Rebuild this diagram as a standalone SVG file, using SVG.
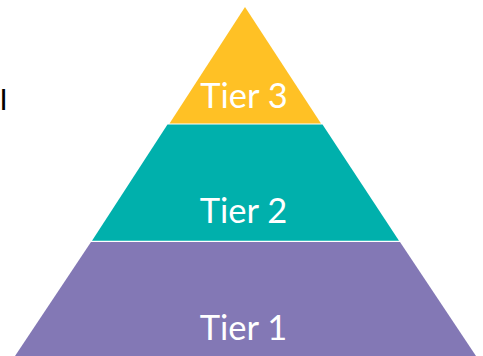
<svg xmlns="http://www.w3.org/2000/svg" width="483" height="356" viewBox="0 0 483 356">
<style>text{font-family:"Lato","Open Sans",sans-serif;font-size:34.500px;fill:#fff;text-anchor:middle}</style>
<rect width="483" height="356" fill="#fff"/>
<g id="tier1"><polygon points="91,242 400,242 476,356 15,356" fill="#8378B5"/><text x="243.500" y="340">Tier 1</text></g>
<g id="tier2"><polygon points="167.500,124.500 322.500,124.500 399,240.800 92,240.800" fill="#00B0AC"/><text x="243.500" y="223">Tier 2</text></g>
<g id="tier3"><polygon points="245,7 321,123.400 169.500,123.400" fill="#FFC125"/><text x="244" y="108">Tier 3</text></g>
<text x="3.500" y="110" style="fill:#000;font-size:29px">I</text>
</svg>
